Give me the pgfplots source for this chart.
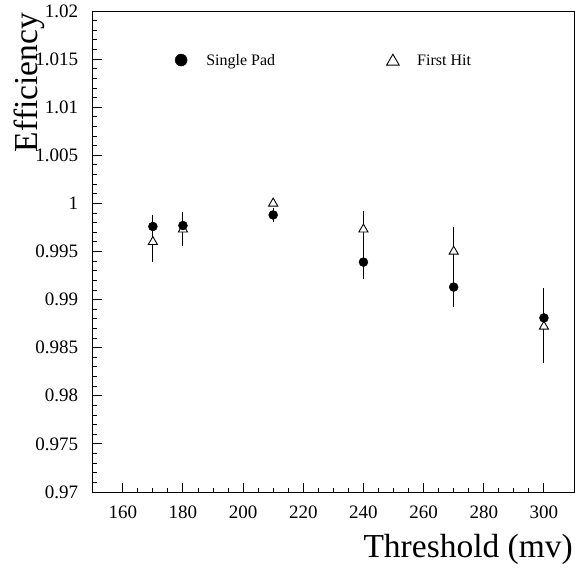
\documentclass[border=0pt]{standalone}
\usepackage{fontspec}
\setmainfont{Liberation Serif}
\usepackage{pgfplots}
\pgfplotsset{compat=1.18}
\begin{document}
\begin{tikzpicture}
\path[use as bounding box] (-92.7pt,-76pt) rectangle (482.3pt,492pt);
\begin{axis}[
  scale only axis, width=481.3pt, height=481pt,
  xmin=150, xmax=310, ymin=0.97, ymax=1.02,
  xtick={160,180,200,220,240,260,280,300}, minor x tick num=3,
  ytick={0.97,0.975,0.98,0.985,0.99,0.995,1,1.005,1.01,1.015,1.02},
  minor y tick num=4,
  tick align=inside, tick pos=left,
  major tick length=9pt, minor tick length=4.5pt,
  every tick/.style={black, line width=0.9pt},
  axis line style={line width=1pt},
  /pgf/number format/fixed, /pgf/number format/precision=3,
  /pgf/number format/assume math mode=true,
  scaled y ticks=false, scaled x ticks=false,
  ticklabel style={font=\fontsize{19}{19}\selectfont},
  yticklabel shift=11pt,
  xticklabel shift=10pt,
  xlabel={Threshold (mv)},
  xlabel style={at={(rel axis cs:0.998,-0.137)}, anchor=base east, inner sep=0pt, font=\fontsize{33.5}{33.5}\selectfont},
  ylabel={Efficiency},
  ylabel style={at={(rel axis cs:-0.114,0.996)}, anchor=base east, inner sep=0pt, font=\fontsize{33.5}{33.5}\selectfont},
]
% First Hit (open triangles)
\addplot[black, only marks, mark=triangle*, mark size=5.3pt,
  mark options={fill=white, draw=black, line width=0.9pt},
  error bars/.cd, y dir=both, y explicit, error mark=none,
  error bar style={line width=1.1pt}]
  coordinates {
  (170,0.9960) +- (0,0.0021)
  (180,0.9973) +- (0,0.0017)
  (210,1.0000) +- (0,0.0003)
  (240,0.9973) +- (0,0.0019)
  (270,0.9950) +- (0,0.0025)
  (300,0.9872) +- (0,0.0038)
  };
% Single Pad (filled circles)
\addplot[black, only marks, mark=*, mark size=4.5pt,
  mark options={fill=black, draw=black},
  error bars/.cd, y dir=both, y explicit, error mark=none,
  error bar style={line width=1.1pt}]
  coordinates {
  (170,0.9976) +- (0,0.0012)
  (180,0.9977) +- (0,0.0014)
  (210,0.9988) +- (0,0.0007)
  (240,0.9939) +- (0,0.0018)
  (270,0.9913) +- (0,0.0021)
  (300,0.9881) +- (0,0.0031)
  };
% legend markers
\addplot[black, only marks, mark=*, mark size=6pt, forget plot] coordinates {(179.4,1.0149)};
\addplot[black, only marks, mark=triangle*, mark size=7.3pt,
  mark options={fill=white, draw=black, line width=0.9pt}, forget plot] coordinates {(249.8,1.01475)};
\node[anchor=base west, inner sep=0pt, font=\fontsize{16}{16}\selectfont] at (axis cs:187.7,1.01432) {Single Pad};
\node[anchor=base west, inner sep=0pt, font=\fontsize{16}{16}\selectfont] at (axis cs:257.8,1.01432) {First Hit};
\end{axis}
\end{tikzpicture}
\end{document}
